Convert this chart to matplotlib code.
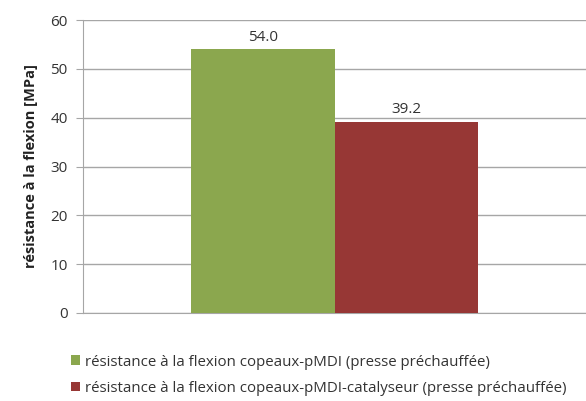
import matplotlib.pyplot as plt
import numpy as np

plt.rcParams['font.family'] = ['Open Sans', 'DejaVu Sans']

series_labels = ['résistance à la flexion copeaux-pMDI (presse préchauffée)',
                 'résistance à la flexion copeaux-pMDI-catalyseur (presse préchauffée)']
values = [54.0, 39.2]
colors = ['#8BA74E', '#973735']
y_ticks = [0, 10, 20, 30, 40, 50, 60]

fig = plt.figure(figsize=(5.86, 4.01), dpi=100)
ax = fig.add_axes([83 / 586, 1 - 313 / 401, 503 / 586, 293 / 401])

width = 0.286
x = 0.0
for i, (lab, v, c) in enumerate(zip(series_labels, values, colors)):
    ax.bar(x + (i - 0.5) * width, v, width, color=c, label=lab, zorder=3)
    ax.text(x + (i - 0.5) * width, v + 0.9, f'{v:.1f}', ha='center', va='bottom',
            fontsize=11, color='#333333')

ax.set_xlim(-0.5, 0.5)
ax.set_ylim(0, 60)
ax.set_yticks(y_ticks)
ax.set_xticks([])
ax.yaxis.grid(True, color='#a6a6a6', linewidth=1, zorder=0)
for s in ['top', 'right']:
    ax.spines[s].set_visible(False)
ax.spines['left'].set_color('#a6a6a6')
ax.spines['bottom'].set_color('#a6a6a6')
ax.tick_params(axis='y', length=5, color='#a6a6a6', labelsize=11, labelcolor='#333333', pad=6)
ax.set_ylabel('résistance à la flexion [MPa]', fontsize=10.5, fontweight='bold',
              color='#222222', labelpad=9)

fig.legend(loc='upper left', bbox_to_anchor=(57 / 586, 1 - 341 / 401), frameon=False,
           fontsize=10.8, handlelength=0.6, handleheight=0.6, handletextpad=0.35,
           labelspacing=0.75, labelcolor='#333333')

fig.savefig('out.png', dpi=100)
